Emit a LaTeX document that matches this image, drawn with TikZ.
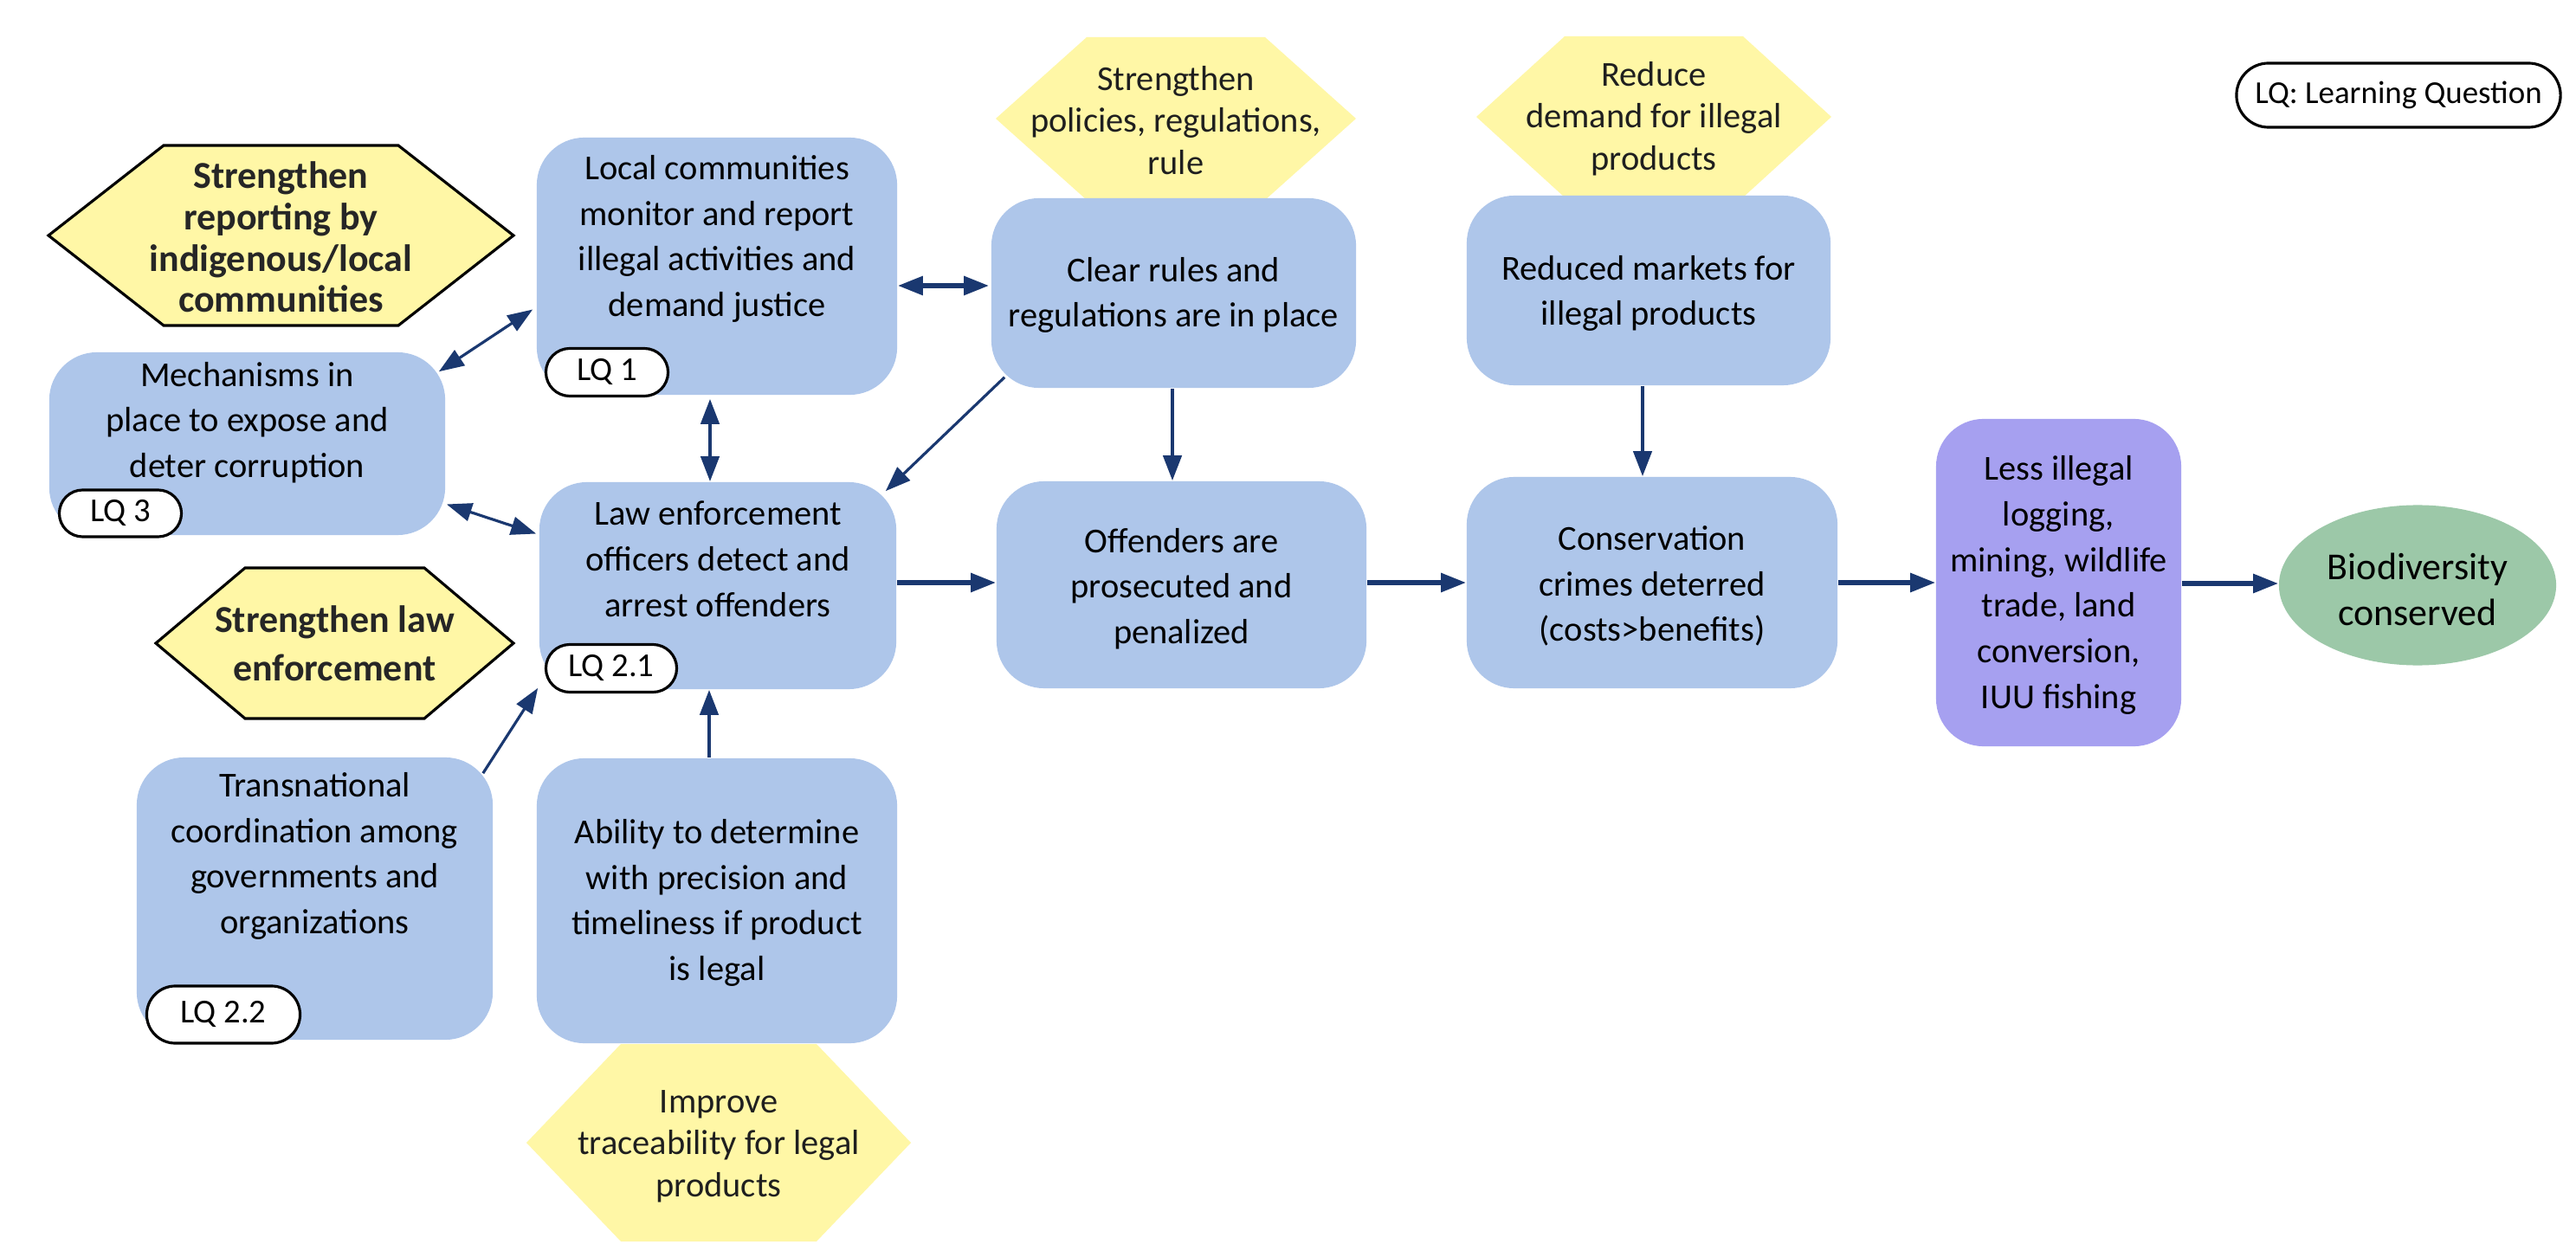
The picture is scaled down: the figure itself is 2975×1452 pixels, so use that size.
\documentclass[tikz,border=0pt]{standalone}
\usepackage{fontspec}
\setmainfont{Carlito}
\usetikzlibrary{arrows.meta,shapes.geometric,shapes.misc}
\definecolor{boxblue}{HTML}{AEC6EA}
\definecolor{lpurple}{HTML}{A6A0F0}
\definecolor{lgreen}{HTML}{9CC8A8}
\definecolor{hexyel}{HTML}{FFF7A6}
\definecolor{navy}{HTML}{1A3870}
\newcommand{\hexshape}[6]{%
  \path[#6] (#1-#3,#2) -- (#1-#3+#5,#2-#4) -- (#1+#3-#5,#2-#4) -- (#1+#3,#2)
    -- (#1+#3-#5,#2+#4) -- (#1-#3+#5,#2+#4) -- cycle;}
\begin{document}
\begin{tikzpicture}[x=0.01cm,y=-0.01cm,
  txt/.style={align=center,font=\fontsize{11.5}{15}\selectfont,inner sep=0pt,text=black},
  htxt/.style={align=center,font=\fontsize{11.5}{13.8}\selectfont,inner sep=0pt,text=black!88},
  btxt/.style={align=center,font=\fontsize{12.5}{13.6}\selectfont\bfseries,inner sep=0pt,text=black!85},
  box/.style n args={2}{fill=boxblue,rounded corners=0.55cm,minimum width=#1cm,minimum height=#2cm,inner sep=0pt},
  pill/.style n args={2}{rounded rectangle,draw=black,line width=0.9pt,fill=white,minimum width=#1cm,minimum height=#2cm,inner sep=0pt,font=\fontsize{11}{13}\selectfont},
  tip/.tip={Triangle[length=0.29cm,width=0.21cm]},
  arrthick/.style={-tip,draw=navy,line width=1.6pt},
  arrmid/.style={-tip,draw=navy,line width=1.2pt},
  arrthin/.style={-tip,draw=navy,line width=0.9pt},
  darrthick/.style={tip-tip,draw=navy,line width=1.6pt},
  darrmid/.style={tip-tip,draw=navy,line width=1.2pt},
  darrthin/.style={tip-tip,draw=navy,line width=0.9pt},
  hexb/.style={fill=hexyel,draw=black,line width=0.9pt},
  hexn/.style={fill=hexyel}
]
\useasboundingbox (0,0) rectangle (2975,1452);
\fill[white] (0,0) rectangle (2975,1452);

% hexagons (strategies)
\hexshape{324.5}{272}{268.5}{104}{133}{hexb}
\node[btxt] (h1) at (324.5,274) {Strengthen\\reporting by\\indigenous/local\\communities};
\hexshape{386.5}{743}{206.5}{87}{103}{hexb}
\node[btxt,font=\fontsize{12.5}{16}\selectfont\bfseries] (h2) at (386.5,743) {Strengthen law\\enforcement};
\hexshape{1358}{137}{208}{94}{105}{hexn}
\node[htxt] (h3) at (1358,139) {Strengthen\\policies, regulations,\\rule};
\hexshape{1910}{135}{205}{93}{102}{hexn}
\node[htxt] (h4) at (1910,137) {Reduce\\demand for illegal\\products};
\hexshape{830}{1320}{222}{114}{109}{hexn}
\node[htxt] (h5) at (830,1324) {Improve\\traceability for legal\\products};

% boxes
\node[box={4.16}{2.97}] (lc) at (828,307.5) {};
\node[txt] (lctxt) at (828,276) {Local communities\\monitor and report\\illegal activities and\\demand justice};
\node[pill={1.41}{0.55}] (lq1) at (701,430) {LQ 1};

\node[box={4.57}{2.11}] (mech) at (285.5,512.5) {};
\node[txt] (mechtxt) at (285.5,488) {Mechanisms in\\place to expose and\\deter corruption};
\node[pill={1.41}{0.54}] (lq3) at (139,593) {LQ 3};

\node[box={4.12}{2.39}] (le) at (829,676.5) {};
\node[txt] (letxt) at (829,646) {Law enforcement\\officers detect and\\arrest offenders};
\node[pill={1.51}{0.55}] (lq21) at (706,772) {LQ 2.1};

\node[box={4.11}{3.26}] (trans) at (363.5,1038) {};
\node[txt] (transtxt) at (363.5,989) {Transnational\\coordination among\\governments and\\organizations};
\node[pill={1.77}{0.66}] (lq22) at (258,1172) {LQ 2.2};

\node[box={4.16}{3.29}] (abil) at (828,1040.5) {};
\node[txt] (abiltxt) at (828,1043) {Ability to determine\\with precision and\\timeliness if product\\is legal};

\node[box={4.21}{2.19}] (clear) at (1355.5,338.5) {};
\node[txt] (cleartxt) at (1355.5,341) {Clear rules and\\regulations are in place};

\node[box={4.20}{2.19}] (red) at (1904,335.5) {};
\node[txt] (redtxt) at (1904,339) {Reduced markets for\\illegal products};

\node[box={4.27}{2.39}] (off) at (1364.5,675.5) {};
\node[txt] (offtxt) at (1364.5,680) {Offenders are\\prosecuted and\\penalized};

\node[box={4.28}{2.44}] (cons) at (1908,673) {};
\node[txt] (constxt) at (1908,677) {Conservation\\crimes deterred\\(costs>benefits)};

\node[box={2.83}{3.78},fill=lpurple] (less) at (2377.5,673) {};
\node[txt] (lesstxt) at (2377.5,676) {Less illegal\\logging,\\mining, wildlife\\trade, land\\conversion,\hspace*{0.3cm}\\IUU fishing};

\node[ellipse,fill=lgreen,minimum width=3.2cm,minimum height=1.85cm,inner sep=0pt] (bio) at (2792,676) {};
\node[txt,font=\fontsize{12.5}{15}\selectfont] (biotxt) at (2792,681) {Biodiversity\\conserved};

\node[pill={3.74}{0.74},font=\fontsize{10.5}{12}\selectfont] (legend) at (2770,110) {LQ: Learning Question};

% connectors
\draw[darrthin] ([shift={(-4,50)}]lc.west) -- ([shift={(-8,23)}]mech.north east);
\draw[darrthin] ([shift={(1,70)}]mech.east) -- ([shift={(-3,-60)}]le.west);
\draw[darrmid] ([shift={(-8,4)}]lc.south) -- ([shift={(-9,0)}]le.north);
\draw[darrthick] ([shift={(0,22.5)}]lc.east) -- ([shift={(-2,-8.5)}]clear.west);
\draw[arrthin] ([shift={(16,-13)}]clear.south west) -- ([shift={(-13,11)}]le.north east);
\draw[arrmid] ([shift={(-1.5,0)}]clear.south) -- ([shift={(-10.5,0)}]off.north);
\draw[arrmid] ([shift={(-7,0)}]red.south) -- ([shift={(-11,0)}]cons.north);
\draw[arrthick] ([shift={(0,-3.5)}]le.east) -- ([shift={(0,-2.5)}]off.west);
\draw[arrthick] ([shift={(0,-2.5)}]off.east) -- (cons.west);
\draw[arrthick] (cons.east) -- (less.west);
\draw[arrthick] ([shift={(0,1)}]less.east) -- ([shift={(0,-2)}]bio.west);
\draw[arrthin] ([shift={(-12,19)}]trans.north east) -- ([shift={(-1,-2)}]le.south west);
\draw[arrmid] ([shift={(-9,0)}]abil.north) -- ([shift={(-10,0)}]le.south);
\end{tikzpicture}
\end{document}
